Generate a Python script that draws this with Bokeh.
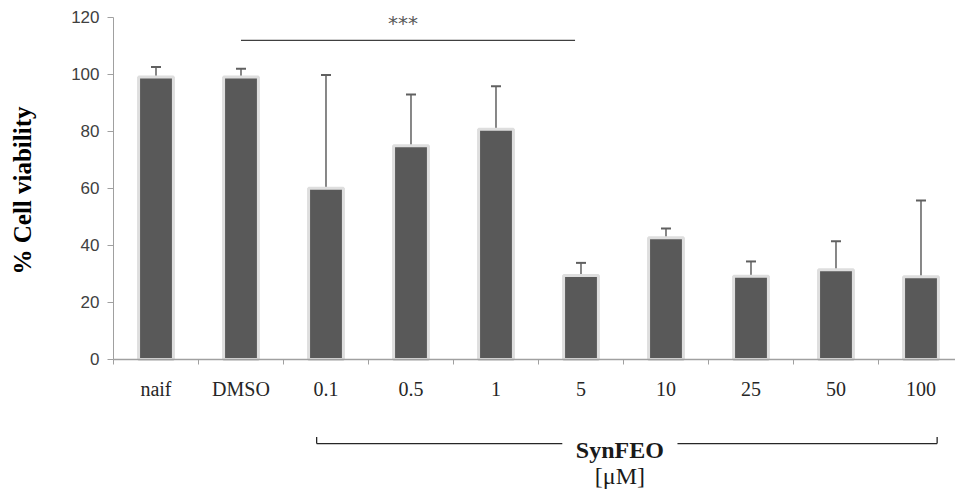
import numpy as np
from bokeh.plotting import figure
from bokeh.models import Range1d, FixedTicker, ColumnDataSource, Whisker, TeeHead
from bokeh.core.properties import value
from bokeh.embed import file_html
from bokeh.resources import INLINE

# ---- data ----
categories = ["naif", "DMSO", "0.1", "0.5", "1", "5", "10", "25", "50", "100"]
viability = [99.1, 99.1, 60.1, 75.0, 80.8, 29.5, 42.7, 29.2, 31.5, 29.0]
err_upper = [102.6, 102.0, 99.8, 93.0, 95.9, 33.9, 46.0, 34.4, 41.5, 55.8]
y_ticks = [0, 20, 40, 60, 80, 100, 120]
y_title = ["% Cell viability"]
sig_span = [1.5, 5.43]      # category-position span of the significance line
sig_level = 112
sig_text = ["***"]
group_label = ["SynFEO"]
unit_label = ["[\u03bcM]"]
group_span = [2.39, 9.69]   # bracket span (category positions)
group_gap = [5.28, 6.635]

centers = [i + 0.5 for i in range(len(categories))]
bounds = [float(i) for i in range(len(categories))]

src = ColumnDataSource(dict(x=centers, top=viability, err=err_upper))

X_END = 9.906
p = figure(width=955, height=491, output_backend="svg", toolbar_location=None,
           x_range=Range1d(-1.3294, X_END), y_range=Range1d(-46.32, 125.965),
           min_border_left=0, min_border_right=0, min_border_top=0,
           min_border_bottom=0)
p.outline_line_color = None
p.xgrid.visible = False
p.ygrid.visible = False
p.background_fill_color = "white"

p.vbar(x="x", top="top", bottom=0, width=0.41, source=src, fill_color="#595959",
       line_color="#dedede", line_width=3)

wh = Whisker(source=src, base="x", upper="err", lower="top", dimension="height",
             line_color="#606060", line_width=1.5,
             upper_head=TeeHead(size=10, line_color="#606060", line_width=2),
             lower_head=None)
p.add_layout(wh)

# significance line
p.line(x=sig_span, y=[sig_level, sig_level], line_color="#404040", line_width=1.3)
p.text(x=[sum(sig_span) / 2 - 0.06], y=[118.0], text=sig_text,
       text_align="center", text_baseline="alphabetic",
       text_font=value("DejaVu Sans"), text_font_size="20px", text_color="#595959")

# x axis placed at y = 0
xa = p.xaxis[0]
xa.fixed_location = 0
xa.bounds = (0, X_END)
xa.ticker = FixedTicker(ticks=centers, minor_ticks=bounds)
xa.major_label_overrides = {c: lab for c, lab in zip(centers, categories)}
xa.major_tick_out = 0
xa.major_tick_in = 0
xa.minor_tick_out = 5
xa.minor_tick_in = 0
xa.minor_tick_line_color = "#a0a0a0"
xa.axis_line_color = "#a0a0a0"
xa.axis_line_width = 1.5
xa.major_label_text_font = "Liberation Serif"
xa.major_label_text_font_size = "20px"
xa.major_label_text_color = "#262626"
xa.major_label_standoff = 14

# y axis placed at x = 0
ya = p.yaxis[0]
ya.fixed_location = 0
ya.bounds = (0, 120)
ya.ticker = FixedTicker(ticks=y_ticks)
ya.minor_tick_line_color = None
ya.major_tick_out = 6
ya.major_tick_in = 0
ya.major_tick_line_color = "#a0a0a0"
ya.axis_line_color = "#a0a0a0"
ya.major_label_text_font = "Liberation Sans"
ya.major_label_text_font_size = "17px"
ya.major_label_text_color = "#404040"
ya.major_label_standoff = 8

p.text(x=[-1.076], y=[59.3], text=y_title, angle=np.pi / 2,
       text_align="center", text_baseline="middle",
       text_font=value("Liberation Serif"), text_font_style="bold",
       text_font_size="25px", text_color="#000000")

# group bracket below the axis
yb = -29.5
ytk = -27.2
p.segment(x0=[group_span[0], group_gap[1], group_span[0], group_span[1]],
          y0=[yb, yb, yb, yb],
          x1=[group_gap[0], group_span[1], group_span[0], group_span[1]],
          y1=[yb, yb, ytk, ytk],
          line_color="#262626", line_width=1.3)
mid = sum(group_gap) / 2
p.text(x=[mid], y=[-31.8], text=group_label, text_align="center",
       text_baseline="middle", text_font=value("Liberation Serif"),
       text_font_style="bold", text_font_size="24px", text_color="#1a1a1a")
p.text(x=[mid], y=[-40.9], text=unit_label, text_align="center",
       text_baseline="middle", text_font=value("Liberation Serif"),
       text_font_size="24px", text_color="#1a1a1a")

open("out.html", "w").write(file_html(p, INLINE))
